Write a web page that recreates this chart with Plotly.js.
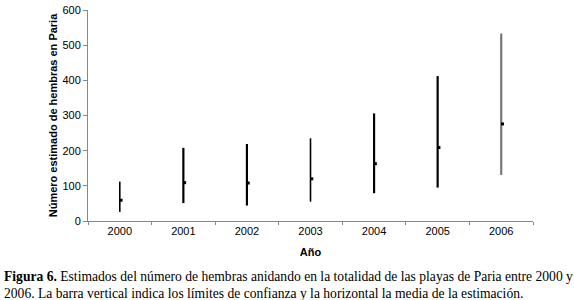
<!DOCTYPE html>
<html>
<head>
<meta charset="utf-8">
<script src="https://cdn.plot.ly/plotly-3.0.1.min.js"></script>
<style>
  html, body { margin: 0; padding: 0; background: #fff; }
  #chart { width: 574px; height: 300px; }
</style>
</head>
<body>
<div id="chart"></div>
<script>
// Data
const years = ['2000', '2001', '2002', '2003', '2004', '2005', '2006'];
const meanValues = [59, 109, 108, 120, 163, 209, 276];
const lowerLimits = [26, 51, 44, 55, 79, 95, 131];
const upperLimits = [112, 208, 219, 235, 306, 412, 533];

// Styles (separate from data)
const barColors = ['#000', '#000', '#000', '#000', '#000', '#000', '#777'];
const barWidths = [1.6, 2.2, 2.2, 1.6, 2.2, 2.2, 2.2];
const meanMarkerShift = 0.02; // small rightward offset of the mean tick (in category units)

// Confidence-limit bars (drawn as error bars with hidden centre markers)
const barTraces = years.map((yr, i) => ({
  type: 'scatter',
  mode: 'markers',
  x: [yr],
  y: [meanValues[i]],
  marker: { size: 0.1, color: 'rgba(0,0,0,0)' },
  error_y: {
    type: 'data',
    symmetric: false,
    array: [upperLimits[i] - meanValues[i]],
    arrayminus: [meanValues[i] - lowerLimits[i]],
    width: 0,
    thickness: barWidths[i],
    color: barColors[i]
  },
  showlegend: false,
  hoverinfo: 'skip'
}));

// Mean markers on an overlaid linear axis aligned with the categories
const meanTrace = {
  type: 'scatter',
  mode: 'markers',
  xaxis: 'x2',
  x: years.map((_, i) => i + meanMarkerShift),
  y: meanValues,
  marker: { symbol: 'square', size: 3, color: '#000' },
  showlegend: false,
  hoverinfo: 'skip'
};

const plotW = 574 - 88 - 41;
const plotH = 300 - 10 - 79;
const px = x => (x - 88) / plotW;
const py = y => (221 - y) / plotH;

const captionFont = { family: 'Liberation Serif, Times New Roman, serif', size: 13.6, color: '#000' };

const layout = {
  width: 574,
  height: 300,
  margin: { l: 88, r: 41, t: 10, b: 79 },
  paper_bgcolor: '#fff',
  plot_bgcolor: '#fff',
  font: { family: 'Liberation Sans, Arial, sans-serif', size: 11, color: '#000' },
  xaxis: {
    type: 'category',
    categoryorder: 'array',
    categoryarray: years,
    range: [-0.5, years.length - 0.5],
    tickson: 'boundaries',
    ticks: 'outside',
    ticklen: 3,
    tickcolor: '#888',
    showline: true,
    linecolor: '#888',
    linewidth: 1,
    showgrid: false,
    zeroline: false,
    tickfont: { size: 11, color: '#000' },
    title: { text: 'Año', font: { size: 11, color: '#000', weight: 'bold' }, standoff: 12 }
  },
  xaxis2: {
    type: 'linear',
    overlaying: 'x',
    range: [-0.5, years.length - 0.5],
    visible: false
  },
  yaxis: {
    range: [0, 600],
    dtick: 100,
    ticks: 'outside',
    ticklen: 4,
    tickcolor: '#888',
    showline: true,
    linecolor: '#888',
    linewidth: 1,
    showgrid: false,
    zeroline: false,
    tickfont: { size: 11, color: '#000' },
    title: { text: 'Número estimado de hembras en Paria', font: { size: 11, color: '#000', weight: 'bold' }, standoff: 2 }
  },
  annotations: [
    {
      xref: 'paper', yref: 'paper',
      x: px(2), y: py(267),
      xanchor: 'left', yanchor: 'top',
      showarrow: false,
      align: 'left',
      text: '<b>Figura 6.</b> Estimados del número de hembras anidando en la totalidad de las playas de Paria entre 2000 y',
      font: captionFont
    },
    {
      xref: 'paper', yref: 'paper',
      x: px(2), y: py(284),
      xanchor: 'left', yanchor: 'top',
      showarrow: false,
      align: 'left',
      text: '2006. La barra vertical indica los límites de confianza y la horizontal la media de la estimación.',
      font: captionFont
    }
  ]
};

Plotly.newPlot('chart', barTraces.concat([meanTrace]), layout, { displayModeBar: false, staticPlot: true });
</script>
</body>
</html>
